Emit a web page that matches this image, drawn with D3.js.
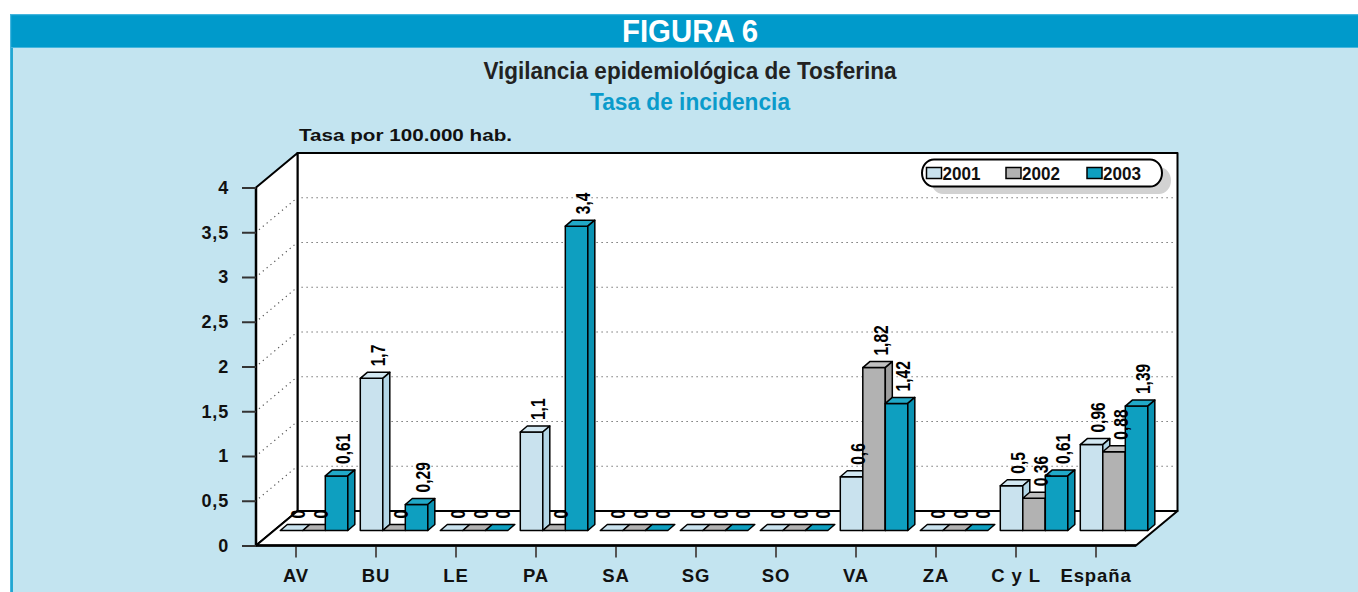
<!DOCTYPE html>
<html><head><meta charset="utf-8">
<script src="https://cdn.jsdelivr.net/npm/d3@7"></script>
<style>html,body{margin:0;padding:0;background:#fff;}svg{display:block;}</style>
</head><body>
<script>
// ---- data ----
const categories = ["AV","BU","LE","PA","SA","SG","SO","VA","ZA","C y L","España"];
const seriesNames = ["2001","2002","2003"];
const values2001 = [0, 1.7, 0, 1.1, 0, 0, 0, 0.6, 0, 0.5, 0.96];
const values2002 = [0, 0, 0, 0, 0, 0, 0, 1.82, 0, 0.36, 0.88];
const values2003 = [0.61, 0.29, 0, 3.4, 0, 0, 0, 1.42, 0, 0.61, 1.39];
const yTicks = [0, 0.5, 1, 1.5, 2, 2.5, 3, 3.5, 4];
const yTickLabels = ["0","0,5","1","1,5","2","2,5","3","3,5","4"];
const figureTitle = "FIGURA 6";
const title = "Vigilancia epidemiológica de Tosferina";
const subtitle = "Tasa de incidencia";
const unitLabel = "Tasa por 100.000 hab.";

const seriesValues = [values2001, values2002, values2003];
const fills = ["#C9E2EE", "#B2B2B2", "#0E9FC0"];
const sideFills = ["#B3D6E6", "#9E9E9E", "#0A92B2"];
const topFills = ["#D3E8F2", "#C0C0C0", "#21A9C8"];

const W = 1358, H = 592;
const FONT = "'Liberation Sans', Arial, sans-serif";
const svg = d3.select("body").append("svg").attr("width", W).attr("height", H);

// ---- page frame ----
svg.append("rect").attr("x",0).attr("y",0).attr("width",W).attr("height",H).attr("fill","#fff");
svg.append("rect").attr("x",10).attr("y",14).attr("width",W-10).attr("height",H-14).attr("fill","#C3E4F0");
svg.append("rect").attr("x",10).attr("y",14).attr("width",W-10).attr("height",34).attr("fill","#009ACB");
svg.append("rect").attr("x",10).attr("y",14).attr("width",W-10).attr("height",1.2).attr("fill","#45B6DE");
svg.append("rect").attr("x",10).attr("y",47).attr("width",W-10).attr("height",1).attr("fill","#45B6DE");
svg.append("rect").attr("x",10).attr("y",14).attr("width",1.2).attr("height",H-14).attr("fill","#45B6DE");
svg.append("rect").attr("x",11.2).attr("y",48).attr("width",1.6).attr("height",H-48).attr("fill","#009ACB");

// titles
svg.append("text").attr("x",690).attr("y",42).attr("text-anchor","middle")
  .attr("font-family",FONT).attr("font-weight","bold").attr("font-size",31).attr("fill","#fff")
  .attr("textLength",136).attr("lengthAdjust","spacingAndGlyphs").text(figureTitle);
svg.append("text").attr("x",690).attr("y",79).attr("text-anchor","middle")
  .attr("font-family",FONT).attr("font-weight","bold").attr("font-size",23).attr("fill","#222")
  .attr("textLength",413).attr("lengthAdjust","spacingAndGlyphs").text(title);
svg.append("text").attr("x",690).attr("y",110).attr("text-anchor","middle")
  .attr("font-family",FONT).attr("font-weight","bold").attr("font-size",23).attr("fill","#0A9BCB")
  .attr("textLength",200).attr("lengthAdjust","spacingAndGlyphs").text(subtitle);
svg.append("text").attr("x",299).attr("y",141)
  .attr("font-family",FONT).attr("font-weight","bold").attr("font-size",17).attr("fill","#111")
  .attr("textLength",213).attr("lengthAdjust","spacingAndGlyphs").text(unitLabel);

// ---- 3D geometry ----
const DX = 41.5, DY = -34.5;           // wall depth
const yF = d3.scaleLinear().domain([0,4]).range([545.5,187.5]);
const xLeft = 256, xRight = 1136;
const x0 = d3.scaleBand().domain(categories).range([xLeft,xRight]).paddingInner(0.156).paddingOuter(0.078);
const x1 = d3.scaleBand().domain(seriesNames).range([0,x0.bandwidth()]);
const T = 0.435;                        // bar plane depth fraction
const BX = T*DX, BY = T*DY;
const bdx = 7, bdy = -6;                // bar depth
const line = d3.line();

const walls = svg.append("g").attr("stroke","#000").attr("stroke-width",2).attr("stroke-linejoin","round").attr("fill","#fff");
walls.append("path").attr("d", line([[xLeft+DX,yF(4)+DY],[xRight+DX,yF(4)+DY],[xRight+DX,yF(0)+DY],[xLeft+DX,yF(0)+DY]])+"Z");
walls.append("path").attr("d", line([[xLeft,yF(4)],[xLeft+DX,yF(4)+DY],[xLeft+DX,yF(0)+DY],[xLeft,yF(0)]])+"Z");
walls.append("path").attr("d", line([[xLeft,yF(0)],[xLeft+DX,yF(0)+DY],[xRight+DX,yF(0)+DY],[xRight,yF(0)]])+"Z");

// gridlines
const grid = svg.append("g").attr("stroke","#555").attr("stroke-width",1.2).attr("stroke-dasharray","1.2,3.8").attr("fill","none");
yTicks.filter(v => v > 0 && v < 4).forEach(v => {
  grid.append("line").attr("x1",xLeft+DX+4).attr("x2",xRight+DX-2).attr("y1",yF(v)+DY).attr("y2",yF(v)+DY);
  grid.append("line").attr("x1",xLeft+3).attr("y1",yF(v)-2.5).attr("x2",xLeft+DX-2).attr("y2",yF(v)+DY+1.5);
});

svg.append("line").attr("x1",xLeft).attr("x2",xLeft).attr("y1",yF(4)).attr("y2",yF(0)).attr("stroke","#000").attr("stroke-width",2.5);

// ---- bars ----
const barsG = svg.append("g").attr("stroke","#000").attr("stroke-width",1.5).attr("stroke-linejoin","round");
const labels = [];
categories.forEach((c, ci) => {
  seriesNames.forEach((s, si) => {
    const v = seriesValues[si][ci];
    const x = x0(c) + x1(s) + BX;
    const w = x1.bandwidth();
    const base = yF(0) + BY;
    const top = base - (yF(0) - yF(v));
    if (v > 0) {
      barsG.append("rect").attr("x",x).attr("y",top).attr("width",w).attr("height",base-top).attr("fill",fills[si]);
      barsG.append("path").attr("fill",topFills[si])
        .attr("d", line([[x,top],[x+w,top],[x+w+bdx,top+bdy],[x+bdx,top+bdy]])+"Z");
      barsG.append("path").attr("fill",sideFills[si])
        .attr("d", line([[x+w,top],[x+w+bdx,top+bdy],[x+w+bdx,base+bdy],[x+w,base]])+"Z");
    } else {
      barsG.append("path").attr("fill",fills[si])
        .attr("d", line([[x,base],[x+w,base],[x+w+bdx,base+bdy],[x+bdx,base+bdy]])+"Z");
    }
    labels.push({x: x + w/2 + bdx/2 + 3, y: top + bdy - 6, t: String(v).replace(".", ",")});
  });
});

// value labels (rotated)
const lg = svg.append("g");
labels.forEach(d => {
  lg.append("text").attr("transform",`translate(${d.x},${d.y}) rotate(-90) scale(0.8,1)`)
    .attr("dy","0.36em").attr("font-family",FONT).attr("font-weight","bold").attr("font-size",19.5).attr("fill","#000")
    .text(d.t);
});

// ---- axes ----
const yAxis = d3.axisLeft(yF).tickValues(yTicks).tickFormat((d,i) => yTickLabels[i]).tickSize(14).tickPadding(13).tickSizeOuter(0);
const yg = svg.append("g").attr("transform",`translate(${xLeft},0)`).call(yAxis);
yg.select(".domain").remove();
yg.selectAll(".tick line").attr("stroke","#333").attr("stroke-width",2);
yg.selectAll(".tick text").attr("font-family",FONT).attr("font-weight","bold").attr("font-size",18).attr("fill","#111").attr("letter-spacing",0.8);

const xAxis = d3.axisBottom(x0).tickSize(12).tickPadding(11).tickSizeOuter(0);
const xg = svg.append("g").attr("transform",`translate(0,${yF(0)})`).call(xAxis);
xg.select(".domain").remove();
xg.selectAll(".tick line").attr("stroke","#555").attr("stroke-width",2);
xg.selectAll(".tick text").attr("font-family",FONT).attr("font-weight","bold").attr("font-size",18.5).attr("fill","#111").attr("letter-spacing",0.9);

svg.append("line").attr("x1",xLeft).attr("x2",xRight).attr("y1",yF(0)).attr("y2",yF(0)).attr("stroke","#000").attr("stroke-width",2.5);

// ---- legend ----
const leg = svg.append("g");
leg.append("rect").attr("x",931).attr("y",167).attr("width",240).attr("height",27).attr("rx",12).attr("ry",13.5).attr("fill","#d2d2d2");
leg.append("rect").attr("x",922).attr("y",159.5).attr("width",240).attr("height",27).attr("rx",12).attr("ry",13.5)
  .attr("fill","#fff").attr("stroke","#000").attr("stroke-width",2);
const legX = [926.5, 1006, 1087];
seriesNames.forEach((s, i) => {
  leg.append("rect").attr("x",legX[i]).attr("y",167.5).attr("width",15).attr("height",11)
    .attr("fill",fills[i]).attr("stroke","#000").attr("stroke-width",1.5);
  leg.append("text").attr("x",legX[i]+16).attr("y",179.5).attr("font-family",FONT).attr("font-weight","bold")
    .attr("font-size",17.5).attr("fill","#111").attr("textLength",38).attr("lengthAdjust","spacingAndGlyphs").text(s);
});
</script>
</body></html>
